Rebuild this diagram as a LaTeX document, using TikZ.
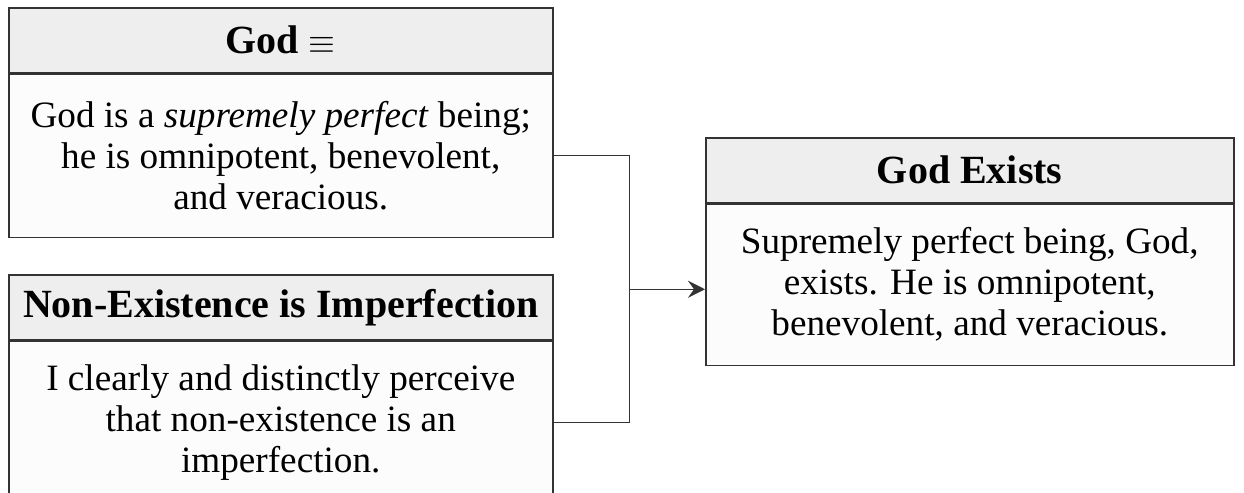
\documentclass[tikz,border=0pt]{standalone}
\usepackage{fontspec}
\setmainfont{Liberation Serif}
\usetikzlibrary{arrows.meta,positioning,calc}
\definecolor{chead}{HTML}{EEEEEE}
\definecolor{cbody}{HTML}{FCFCFC}
\definecolor{cline}{HTML}{333333}
\tikzset{
  box/.style={draw=cline,line width=0.75pt,align=center,inner sep=0pt,font=\fontsize{18.6}{20.5}\selectfont},
  >={Stealth[length=8.5pt,width=8.5pt,inset=3pt]}
}
\begin{document}
\begin{tikzpicture}[node distance=0pt,
      head/.style={box,fill=chead,minimum height=32.5pt,font=\fontsize{20}{22}\selectfont\bfseries},
      body/.style={box,fill=cbody,minimum height=81.5pt},
      wire/.style={draw=cline,line width=0.7pt}]
    \clip (0,0) rectangle (622pt,-246.5pt);
    \fill[white] (0,0) rectangle (622pt,-246.5pt);
    % premises
    \node[head,minimum width=272pt,anchor=north west] (head1) at (4pt,-3.5pt) {God {\normalfont\fontsize{16}{18}\selectfont$\equiv$}};
    \node[body,minimum width=272pt,below=of head1] (body1) {God is a \textit{supremely perfect} being;\\ he is omnipotent, benevolent,\\ and veracious.};
    \node[head,minimum width=272pt,below=18pt of body1] (head2) {Non-Existence is Imperfection};
    \node[body,minimum width=272pt,below=of head2] (body2) {I clearly and distinctly perceive\\ that non-existence is an\\ imperfection.};
    % conclusion
    \node[head,minimum width=264pt,anchor=north west] (head3) at (352.5pt,-68.5pt) {God Exists};
    \node[body,minimum width=264pt,minimum height=80.5pt,below=of head3] (body3) {Supremely perfect being, God,\\ exists. He is omnipotent,\\ benevolent, and veracious.};
    \coordinate (jn) at ($($(body1.east)!.5!(body2.east)$)+(38pt,0)$);
    \draw[wire] (body1.east) -| (jn) |- (body2.east);
    \draw[wire,->] (jn) -- (jn -| body3.west);
  \end{tikzpicture}
\end{document}
